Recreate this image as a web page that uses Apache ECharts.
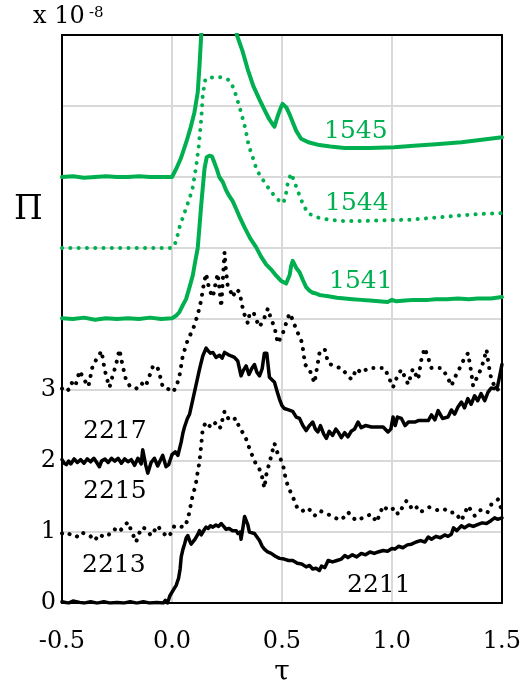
<!DOCTYPE html>
<html>
<head>
<meta charset="utf-8">
<script src="https://cdn.jsdelivr.net/npm/echarts@6/dist/echarts.min.js"></script>
<style>html,body{margin:0;padding:0;background:#fff}#c{width:524px;height:692px}</style>
</head>
<body>
<div id="c"></div>
<script>
// ---- data (tau, Pi x 1e-8 with vertical offsets as plotted) ----
const xTicks = [-0.5, 0.0, 0.5, 1.0, 1.5];
const yTickLabels = [0, 1, 2, 3];

const s2211 = [[-0.5,0.02],[-0.47,0.0],[-0.45,0.03],[-0.42,0.01],[-0.4,0.0],[-0.37,0.02],[-0.34,0.0],[-0.31,0.02],[-0.28,0.0],[-0.25,0.01],[-0.22,0.0],[-0.19,0.02],[-0.16,0.0],[-0.13,0.02],[-0.1,0.0],[-0.07,0.01],[-0.04,0.0],[-0.03,0.04],[-0.02,0.0],[-0.01,0.1],[0.005,0.18],[0.019,0.25],[0.03,0.35],[0.037,0.48],[0.042,0.65],[0.05,0.76],[0.057,0.83],[0.065,0.92],[0.072,0.95],[0.08,0.88],[0.087,0.83],[0.095,0.85],[0.105,0.9],[0.11,0.88],[0.118,0.97],[0.125,1.02],[0.133,0.96],[0.14,0.94],[0.148,1.04],[0.155,1.07],[0.165,1.05],[0.175,1.09],[0.186,1.07],[0.2,1.1],[0.212,1.08],[0.224,1.12],[0.235,1.08],[0.246,1.04],[0.26,1.05],[0.275,1.02],[0.292,1.02],[0.3,0.98],[0.31,1.0],[0.314,0.9],[0.322,1.05],[0.33,1.22],[0.336,1.2],[0.345,1.1],[0.352,1.0],[0.36,1.02],[0.375,0.98],[0.383,1.0],[0.398,0.88],[0.41,0.8],[0.42,0.76],[0.435,0.72],[0.451,0.7],[0.47,0.66],[0.489,0.63],[0.51,0.62],[0.53,0.6],[0.549,0.6],[0.57,0.56],[0.59,0.55],[0.61,0.51],[0.625,0.53],[0.64,0.48],[0.655,0.49],[0.67,0.46],[0.68,0.52],[0.695,0.5],[0.71,0.6],[0.73,0.58],[0.75,0.6],[0.77,0.62],[0.786,0.67],[0.8,0.64],[0.82,0.68],[0.84,0.65],[0.861,0.7],[0.88,0.68],[0.9,0.72],[0.92,0.7],[0.937,0.72],[0.96,0.74],[0.98,0.73],[1.0,0.77],[1.013,0.76],[1.03,0.8],[1.05,0.78],[1.07,0.82],[1.089,0.83],[1.11,0.86],[1.13,0.88],[1.15,0.86],[1.165,0.93],[1.18,0.9],[1.2,0.94],[1.22,0.92],[1.24,0.96],[1.255,0.94],[1.27,0.97],[1.28,1.06],[1.295,1.02],[1.316,1.09],[1.33,1.06],[1.35,1.1],[1.37,1.08],[1.392,1.11],[1.41,1.13],[1.43,1.12],[1.45,1.16],[1.467,1.2],[1.48,1.18],[1.5,1.2]];

const s2213 = [[-0.5,0.98],[-0.48,1.0],[-0.46,0.96],[-0.435,0.93],[-0.41,1.0],[-0.39,0.96],[-0.37,0.94],[-0.352,0.88],[-0.33,0.97],[-0.31,0.93],[-0.29,0.95],[-0.275,1.02],[-0.261,1.04],[-0.24,1.0],[-0.22,1.08],[-0.2,1.14],[-0.185,1.02],[-0.163,0.86],[-0.15,0.98],[-0.133,1.07],[-0.115,1.03],[-0.095,0.95],[-0.08,1.02],[-0.065,1.09],[-0.045,1.0],[-0.019,0.93],[0.0,1.0],[0.011,1.09],[0.035,1.08],[0.057,1.07],[0.072,1.18],[0.08,1.3],[0.087,1.41],[0.095,1.53],[0.107,1.65],[0.117,1.85],[0.125,1.99],[0.133,2.23],[0.14,2.46],[0.155,2.55],[0.178,2.47],[0.201,2.55],[0.22,2.47],[0.239,2.7],[0.261,2.57],[0.292,2.6],[0.307,2.46],[0.33,2.37],[0.352,2.18],[0.367,2.06],[0.383,1.95],[0.405,1.85],[0.42,1.62],[0.431,1.85],[0.443,1.97],[0.454,2.11],[0.466,2.25],[0.473,2.16],[0.504,1.96],[0.519,1.72],[0.534,1.6],[0.557,1.44],[0.572,1.32],[0.595,1.3],[0.619,1.34],[0.648,1.23],[0.672,1.3],[0.71,1.25],[0.74,1.2],[0.77,1.17],[0.801,1.28],[0.82,1.2],[0.846,1.16],[0.875,1.22],[0.907,1.25],[0.93,1.14],[0.96,1.37],[0.985,1.3],[1.013,1.34],[1.028,1.25],[1.066,1.44],[1.085,1.35],[1.104,1.39],[1.125,1.28],[1.142,1.3],[1.17,1.35],[1.195,1.32],[1.22,1.3],[1.24,1.32],[1.265,1.27],[1.286,1.28],[1.316,1.16],[1.346,1.37],[1.376,1.23],[1.395,1.3],[1.414,1.32],[1.435,1.28],[1.452,1.39],[1.482,1.46],[1.5,1.3]];

const s2215 = [[-0.5,2.02],[-0.49,1.97],[-0.48,1.95],[-0.47,2.0],[-0.46,1.96],[-0.445,2.03],[-0.43,1.98],[-0.415,2.02],[-0.4,1.97],[-0.385,2.03],[-0.37,1.99],[-0.355,2.04],[-0.34,1.97],[-0.33,1.92],[-0.32,2.0],[-0.305,2.03],[-0.29,1.98],[-0.275,2.04],[-0.26,2.0],[-0.245,2.04],[-0.23,1.97],[-0.215,2.03],[-0.2,1.99],[-0.185,2.02],[-0.17,1.94],[-0.155,2.04],[-0.14,1.96],[-0.133,2.16],[-0.12,1.95],[-0.11,1.83],[-0.095,1.98],[-0.08,2.04],[-0.065,1.93],[-0.05,2.03],[-0.042,2.08],[-0.027,1.92],[-0.015,1.95],[0.0,2.09],[0.015,2.13],[0.027,2.08],[0.042,2.27],[0.05,2.4],[0.057,2.48],[0.07,2.6],[0.08,2.66],[0.095,2.87],[0.11,3.08],[0.125,3.29],[0.14,3.48],[0.155,3.59],[0.165,3.55],[0.175,3.52],[0.186,3.53],[0.2,3.46],[0.216,3.49],[0.228,3.45],[0.239,3.53],[0.255,3.5],[0.269,3.48],[0.284,3.46],[0.299,3.41],[0.314,3.2],[0.325,3.28],[0.337,3.34],[0.35,3.22],[0.362,3.3],[0.375,3.36],[0.386,3.25],[0.398,3.2],[0.41,3.3],[0.42,3.52],[0.431,3.52],[0.443,3.18],[0.466,3.11],[0.478,2.98],[0.489,2.87],[0.5,2.78],[0.511,2.74],[0.53,2.72],[0.549,2.7],[0.565,2.62],[0.58,2.6],[0.595,2.5],[0.61,2.43],[0.625,2.5],[0.64,2.55],[0.652,2.45],[0.663,2.41],[0.675,2.5],[0.69,2.38],[0.702,2.32],[0.715,2.42],[0.73,2.36],[0.745,2.45],[0.755,2.41],[0.77,2.33],[0.785,2.4],[0.8,2.34],[0.815,2.42],[0.83,2.45],[0.846,2.55],[0.86,2.47],[0.88,2.5],[0.907,2.48],[0.93,2.48],[0.96,2.48],[0.982,2.41],[0.995,2.45],[1.005,2.62],[1.015,2.5],[1.025,2.62],[1.043,2.6],[1.06,2.5],[1.075,2.55],[1.09,2.55],[1.104,2.55],[1.12,2.57],[1.14,2.57],[1.165,2.57],[1.18,2.65],[1.195,2.58],[1.21,2.71],[1.23,2.6],[1.255,2.62],[1.27,2.72],[1.285,2.66],[1.3,2.76],[1.316,2.83],[1.33,2.75],[1.345,2.88],[1.36,2.8],[1.376,2.92],[1.39,2.85],[1.405,2.95],[1.422,2.85],[1.437,2.97],[1.452,3.03],[1.465,3.02],[1.48,3.05],[1.49,3.2],[1.5,3.36]];

const s2217 = [[-0.5,3.02],[-0.485,3.05],[-0.47,3.0],[-0.455,3.1],[-0.44,3.05],[-0.42,3.27],[-0.4,3.15],[-0.38,3.05],[-0.36,3.35],[-0.34,3.45],[-0.32,3.55],[-0.307,3.3],[-0.295,3.15],[-0.284,3.04],[-0.27,3.2],[-0.255,3.35],[-0.239,3.57],[-0.224,3.34],[-0.208,3.13],[-0.19,3.05],[-0.163,3.02],[-0.14,3.1],[-0.12,3.05],[-0.102,3.2],[-0.085,3.35],[-0.065,3.31],[-0.05,3.15],[-0.042,3.04],[-0.02,3.02],[0.004,2.97],[0.02,3.05],[0.034,3.2],[0.049,3.48],[0.072,3.71],[0.095,3.85],[0.117,4.06],[0.133,4.27],[0.145,4.5],[0.155,4.64],[0.17,4.41],[0.186,4.31],[0.198,4.5],[0.208,4.64],[0.215,4.45],[0.224,4.17],[0.232,4.6],[0.239,4.94],[0.245,4.7],[0.254,4.45],[0.265,4.4],[0.276,4.31],[0.292,4.42],[0.307,4.38],[0.325,4.1],[0.345,3.94],[0.352,4.06],[0.37,4.1],[0.383,3.99],[0.398,3.89],[0.418,4.0],[0.436,4.15],[0.45,4.0],[0.466,3.89],[0.481,3.66],[0.504,3.8],[0.52,3.95],[0.534,4.08],[0.549,3.99],[0.565,3.85],[0.587,3.71],[0.596,3.57],[0.605,3.36],[0.625,3.29],[0.648,3.1],[0.672,3.55],[0.695,3.57],[0.71,3.38],[0.74,3.33],[0.77,3.31],[0.8,3.2],[0.816,3.15],[0.84,3.3],[0.861,3.24],[0.892,3.31],[0.93,3.31],[0.967,3.31],[1.005,3.04],[1.025,3.2],[1.043,3.29],[1.074,3.08],[1.095,3.3],[1.119,3.15],[1.135,3.45],[1.149,3.59],[1.165,3.45],[1.18,3.31],[1.2,3.31],[1.225,3.31],[1.25,3.2],[1.27,3.06],[1.29,3.2],[1.308,3.31],[1.325,3.42],[1.346,3.52],[1.358,3.3],[1.369,3.06],[1.39,3.2],[1.407,3.31],[1.42,3.45],[1.43,3.57],[1.44,3.35],[1.452,3.15],[1.475,3.0],[1.5,3.04]];

const s1541 = [[-0.5,4.01],[-0.45,4.0],[-0.4,4.02],[-0.35,3.99],[-0.3,4.01],[-0.25,4.0],[-0.2,4.01],[-0.15,4.0],[-0.1,4.02],[-0.05,4.0],[0.0,4.01],[0.02,4.05],[0.034,4.1],[0.05,4.2],[0.064,4.28],[0.08,4.45],[0.095,4.62],[0.105,4.8],[0.117,5.0],[0.125,5.3],[0.133,5.61],[0.14,5.85],[0.148,6.12],[0.158,6.28],[0.17,6.3],[0.182,6.29],[0.193,6.2],[0.205,6.1],[0.215,6.0],[0.231,5.93],[0.245,5.82],[0.261,5.73],[0.276,5.66],[0.292,5.55],[0.31,5.42],[0.33,5.29],[0.355,5.14],[0.383,5.01],[0.405,4.88],[0.428,4.77],[0.45,4.7],[0.474,4.61],[0.495,4.54],[0.519,4.5],[0.528,4.52],[0.535,4.62],[0.542,4.75],[0.549,4.82],[0.557,4.8],[0.565,4.72],[0.572,4.73],[0.58,4.66],[0.595,4.55],[0.61,4.45],[0.625,4.4],[0.64,4.37],[0.655,4.36],[0.67,4.34],[0.69,4.33],[0.71,4.32],[0.75,4.3],[0.786,4.29],[0.82,4.28],[0.86,4.27],[0.9,4.26],[0.94,4.25],[0.98,4.24],[1.0,4.27],[1.02,4.25],[1.06,4.26],[1.1,4.27],[1.165,4.27],[1.2,4.28],[1.25,4.28],[1.3,4.29],[1.35,4.28],[1.39,4.29],[1.45,4.29],[1.5,4.31]];

const s1544 = [[-0.5,5.0],[-0.25,5.0],[0.0,5.0],[0.011,5.03],[0.023,5.15],[0.034,5.29],[0.046,5.4],[0.064,5.56],[0.08,5.7],[0.095,5.86],[0.102,6.0],[0.11,6.15],[0.122,6.44],[0.133,6.81],[0.14,7.16],[0.152,7.38],[0.17,7.4],[0.186,7.4],[0.21,7.41],[0.231,7.4],[0.255,7.37],[0.265,7.35],[0.28,7.25],[0.292,7.14],[0.314,6.91],[0.334,6.68],[0.349,6.44],[0.367,6.28],[0.385,6.1],[0.405,6.0],[0.428,5.89],[0.45,5.8],[0.474,5.7],[0.504,5.63],[0.515,5.7],[0.527,5.93],[0.542,6.05],[0.557,5.93],[0.587,5.68],[0.617,5.49],[0.663,5.43],[0.71,5.4],[0.78,5.38],[0.861,5.38],[0.95,5.39],[1.089,5.4],[1.2,5.43],[1.316,5.46],[1.4,5.48],[1.5,5.49]];

const s1545 = [[-0.5,6.0],[-0.45,6.01],[-0.4,5.99],[-0.35,6.0],[-0.3,6.01],[-0.25,6.0],[-0.2,6.0],[-0.15,6.01],[-0.1,6.0],[-0.05,6.0],[0.0,6.0],[0.02,6.12],[0.04,6.26],[0.065,6.49],[0.085,6.7],[0.102,6.91],[0.117,7.19],[0.125,7.56],[0.133,8.0],[0.15,8.6],[0.18,9.2],[0.22,9.4],[0.26,9.0],[0.28,8.5],[0.295,8.0],[0.32,7.78],[0.345,7.51],[0.37,7.28],[0.398,7.09],[0.42,6.95],[0.443,6.81],[0.458,6.74],[0.466,6.71],[0.475,6.8],[0.481,6.86],[0.495,6.98],[0.503,7.03],[0.511,7.04],[0.52,6.98],[0.535,6.88],[0.549,6.77],[0.565,6.65],[0.587,6.54],[0.62,6.49],[0.67,6.45],[0.72,6.43],[0.785,6.41],[0.85,6.41],[0.9,6.41],[1.01,6.42],[1.1,6.44],[1.2,6.46],[1.316,6.49],[1.4,6.52],[1.5,6.56]];

const seriesNames = ['2211','2213','2215','2217','1541','1544','1545'];

// ---- chart ----
const GREEN = '#00b050';
const FONT = '"DejaVu Serif", serif';
const chart = echarts.init(document.getElementById('c'), null, {renderer: 'canvas', width: 524, height: 692});

function solid(name, data, color, w) {
  return {name, type: 'line', data, showSymbol: false, clip: true, silent: true,
    lineStyle: {color, width: w, cap: 'round', join: 'round'}, z: 3};
}
function dotted(name, data, color, w) {
  return {name, type: 'line', data, showSymbol: false, clip: true, silent: true,
    lineStyle: {color, width: w, type: [0.1, 8.2], cap: 'round', join: 'round'}, z: 3};
}

const axisCommonHidden = {
  axisLabel: {show: false}, axisTick: {show: false}, splitLine: {show: false},
  axisLine: {show: true, onZero: false, lineStyle: {color: '#000', width: 2}}
};

chart.setOption({
  animation: false,
  backgroundColor: '#fff',
  grid: {left: 62, top: 35, width: 440, height: 575, containLabel: false},
  xAxis: [{
    type: 'value', min: -0.5, max: 1.5, interval: 0.5,
    axisLine: {show: true, onZero: false, lineStyle: {color: '#000', width: 2}},
    axisTick: {show: false},
    axisLabel: {margin: 27, color: '#000', fontFamily: FONT, fontSize: 24,
      formatter: v => (xTicks.indexOf(v) >= 0 ? v.toFixed(1) : '')},
    splitLine: {show: true, lineStyle: {color: '#d9d9d9', width: 2}},
    name: 'τ', nameLocation: 'middle', nameGap: 49,
    nameTextStyle: {color: '#000', fontFamily: FONT, fontSize: 28}
  }, Object.assign({type: 'value', position: 'top', min: -0.5, max: 1.5, interval: 0.5}, axisCommonHidden)],
  yAxis: [{
    type: 'value', min: 0, max: 8, interval: 1,
    axisLine: {show: true, onZero: false, lineStyle: {color: '#000', width: 2}},
    axisTick: {show: false},
    axisLabel: {margin: 6, color: '#000', fontFamily: FONT, fontSize: 24,
      formatter: v => (yTickLabels.indexOf(v) >= 0 ? String(v) : '')},
    splitLine: {show: true, lineStyle: {color: '#d9d9d9', width: 2}}
  }, Object.assign({type: 'value', position: 'right', min: 0, max: 8, interval: 1}, axisCommonHidden)],
  series: [
    solid(seriesNames[0], s2211, '#000', 3.5),
    dotted(seriesNames[1], s2213, '#000', 4),
    solid(seriesNames[2], s2215, '#000', 3.5),
    dotted(seriesNames[3], s2217, '#000', 4),
    solid(seriesNames[4], s1541, GREEN, 4),
    dotted(seriesNames[5], s1544, GREEN, 4),
    solid(seriesNames[6], s1545, GREEN, 4)
  ],
  graphic: [
    {type: 'text', left: 33, top: 5, style: {text: 'x 10', font: '24px ' + FONT, fill: '#000'}},
    {type: 'text', left: 89, top: 6, style: {text: '-8', font: '15px ' + FONT, fill: '#000'}},
    {type: 'text', left: 14, top: 194, style: {text: 'Π', font: '33px ' + FONT, fill: '#000'}},
    {type: 'text', left: 324, top: 119, style: {text: '1545', font: '25px ' + FONT, fill: GREEN}},
    {type: 'text', left: 325, top: 191, style: {text: '1544', font: '25px ' + FONT, fill: GREEN}},
    {type: 'text', left: 329, top: 269, style: {text: '1541', font: '25px ' + FONT, fill: GREEN}},
    {type: 'text', left: 83, top: 419, style: {text: '2217', font: '25px ' + FONT, fill: '#000'}},
    {type: 'text', left: 83, top: 479, style: {text: '2215', font: '25px ' + FONT, fill: '#000'}},
    {type: 'text', left: 82, top: 553, style: {text: '2213', font: '25px ' + FONT, fill: '#000'}},
    {type: 'text', left: 347, top: 573, style: {text: '2211', font: '25px ' + FONT, fill: '#000'}}
  ]
});
</script>
</body>
</html>
